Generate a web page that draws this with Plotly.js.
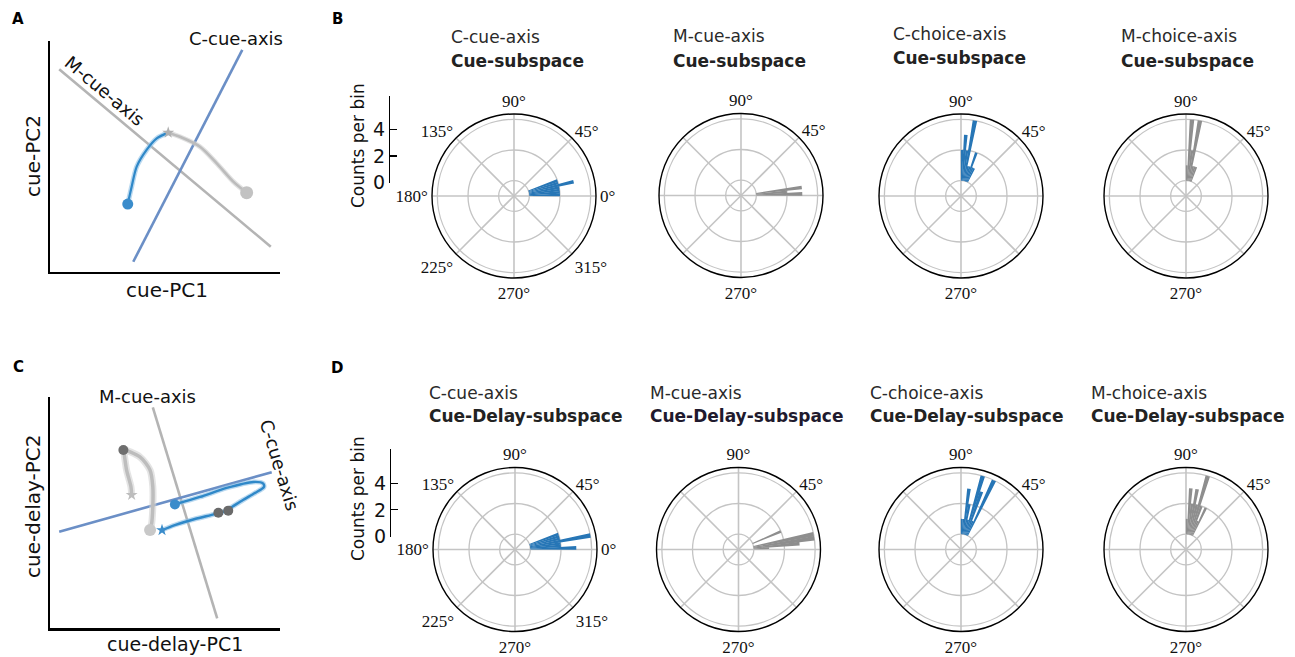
<!DOCTYPE html>
<html>
<head>
<meta charset="utf-8">
<script src="https://cdn.plot.ly/plotly-3.0.1.min.js"></script>
<style>html,body{margin:0;padding:0;background:#fff}#chart{width:1295px;height:657px}</style>
</head>
<body>
<div id="chart"></div>
<script>
// ---------- DATA ----------
// Panel A (cue subspace) projections, arbitrary units
const A_Mcue_axis_x = [0.40, 9.60];
const A_Mcue_axis_y = [8.76, 1.08];
const A_Ccue_axis_x = [3.62, 8.36];
const A_Ccue_axis_y = [0.43, 9.60];
const A_blue_traj_x = [3.38, 3.55, 3.77, 4.20, 4.64, 5.14];
const A_blue_traj_y = [2.93, 3.68, 4.55, 5.27, 5.77, 6.02];
const A_gray_traj_x = [5.14, 5.65, 6.52, 7.25, 7.97, 8.55];
const A_gray_traj_y = [6.02, 5.84, 5.41, 4.69, 3.90, 3.42];

// Panel C (cue-delay subspace)
const C_Mcue_axis_x = [4.47, 7.27];
const C_Mcue_axis_y = [9.54, 0.43];
const C_Ccue_axis_x = [0.40, 9.64];
const C_Ccue_axis_y = [4.17, 6.74];
const C_blue_traj_x = [5.43, 6.52, 7.68, 8.84, 9.26, 9.30, 8.91, 8.39, 7.91, 7.61, 7.17, 6.30, 5.43, 4.87];
const C_blue_traj_y = [5.35, 5.67, 6.06, 6.32, 6.26, 6.10, 5.84, 5.54, 5.24, 5.06, 4.93, 4.72, 4.46, 4.24];
const C_gray_traj_x = [3.55, 3.52, 3.33, 3.22, 3.19, 3.91, 4.35, 4.47, 4.47, 4.42, 4.35];
const C_gray_traj_y = [5.76, 6.11, 6.83, 7.55, 7.70, 7.40, 6.83, 6.11, 5.25, 4.53, 4.24];
const C_dark_dots_x = [7.32, 7.75];
const C_dark_dots_y = [4.99, 5.08];

// Polar histograms: bin centre angle (deg) and counts per bin
const B_Ccue_theta = [1.5, 4.5, 7.5, 10.5, 13.5, 16.5, 19.5];
const B_Ccue_count = [2, 2, 2, 2, 3, 2, 2];
const B_Mcue_theta = [1.5, 4.5, 7.5];
const B_Mcue_count = [3, 2, 3];
const B_Cchoice_theta = [64.5, 67.5, 70.5, 73.5, 76.5, 79.5, 82.5, 85.5, 88.5];
const B_Cchoice_count = [1, 1, 2, 1, 1, 4, 2, 3, 2];
const B_Mchoice_theta = [70.5, 73.5, 76.5, 79.5, 82.5, 85.5, 88.5];
const B_Mchoice_count = [1, 1, 1, 4, 2, 4, 1];
const D_Ccue_theta = [1.5, 4.5, 7.5, 10.5, 13.5, 16.5, 19.5];
const D_Ccue_count = [3, 2, 2, 4, 2, 2, 2];
const D_Mcue_theta = [2.5, 5.5, 8.5, 11.5, 23];
const D_Mcue_count = [1, 3, 4, 4, 2];
const D_Cchoice_theta = [64.5, 67.5, 70.5, 73.5, 76.5, 79.5, 82.5, 85.5, 88.5];
const D_Cchoice_count = [4, 1, 3, 4, 1, 2, 3, 1, 1];
const D_Mchoice_theta = [64.5, 67.5, 70.5, 73.5, 76.5, 79.5, 82.5, 85.5, 88.5];
const D_Mchoice_count = [2, 1, 2, 4, 2, 3, 2, 3, 1];

const angleTicks = [0, 45, 90, 135, 180, 225, 270, 315];
const angleLabelsFull = ['0°', '45°', '90°', '135°', '180°', '225°', '270°', '315°'];
const angleLabelsPart = ['', '45°', '90°', '', '', '', '270°', ''];
const countTicks = [0, 2, 4];

const titles1 = ['C-cue-axis', 'M-cue-axis', 'C-choice-axis', 'M-choice-axis'];
const titlesB2 = 'Cue-subspace';
const titlesD2 = 'Cue-Delay-subspace';

// ---------- LAYOUT HELPERS ----------
const W = 1295, H = 657;
const px = x => x / W;
const py = y => 1 - y / H;
const BLUE = '#2776b6', GRAY = '#8e8e8e';
const SANS = 'DejaVu Sans, Liberation Sans, sans-serif';
const SERIF = 'Liberation Serif, Times New Roman, serif';

const traces = [];
const layout = {
  width: W, height: H,
  margin: {l: 0, r: 0, t: 0, b: 0},
  paper_bgcolor: '#fff', plot_bgcolor: 'rgba(0,0,0,0)',
  showlegend: false, hovermode: false,
  font: {family: SANS, color: '#222'},
  annotations: []
};

function cartAxes(n, x0, x1, yTop, yBot) {
  const xa = {domain: [px(x0), px(x1)], range: [0, 10], showline: true, linecolor: '#000', linewidth: 2.2,
    showgrid: false, zeroline: false, showticklabels: false, ticks: '', anchor: 'y' + (n === 1 ? '' : n), fixedrange: true};
  const ya = {domain: [py(yBot), py(yTop)], range: [0, 10], showline: true, linecolor: '#000', linewidth: 2.2,
    showgrid: false, zeroline: false, showticklabels: false, ticks: '', anchor: 'x' + (n === 1 ? '' : n), fixedrange: true};
  layout['xaxis' + (n === 1 ? '' : n)] = xa;
  layout['yaxis' + (n === 1 ? '' : n)] = ya;
}
cartAxes(1, 50, 280, 40.7, 271.7);
cartAxes(2, 50, 280, 396.7, 628.3);

function line(xs, ys, n, color, width, opacity) {
  traces.push({type: 'scatter', mode: 'lines', x: xs, y: ys, xaxis: 'x' + (n === 1 ? '' : n), yaxis: 'y' + (n === 1 ? '' : n),
    line: {color: color, width: width, shape: 'spline', smoothing: 0.8}, opacity: opacity || 1});
}
function mark(xs, ys, n, color, size, symbol, opacity) {
  traces.push({type: 'scatter', mode: 'markers', x: xs, y: ys, xaxis: 'x' + (n === 1 ? '' : n), yaxis: 'y' + (n === 1 ? '' : n),
    marker: {color: color, size: size, symbol: symbol || 'circle', line: {width: 0}}, opacity: opacity || 1});
}

// Panel A
line(A_Mcue_axis_x, A_Mcue_axis_y, 1, '#b4b4b4', 2.6);
line(A_Ccue_axis_x, A_Ccue_axis_y, 1, '#6b8fc6', 2.6);
line(A_gray_traj_x, A_gray_traj_y, 1, '#cfcfcf', 5, 0.6);
line(A_gray_traj_x, A_gray_traj_y, 1, '#bcbcbc', 2.6);
line(A_blue_traj_x, A_blue_traj_y, 1, '#8cc0e6', 5, 0.6);
line(A_blue_traj_x, A_blue_traj_y, 1, '#2f88c8', 2.2);
mark([A_blue_traj_x[0]], [A_blue_traj_y[0]], 1, '#3a8ccb', 11);
mark([A_gray_traj_x[A_gray_traj_x.length - 1]], [A_gray_traj_y[A_gray_traj_y.length - 1]], 1, '#c2c2c2', 13);
mark([A_gray_traj_x[0]], [A_gray_traj_y[0]], 1, '#b0b0b0', 9, 'star');

// Panel C
line(C_Mcue_axis_x, C_Mcue_axis_y, 2, '#b4b4b4', 2.6);
line(C_Ccue_axis_x, C_Ccue_axis_y, 2, '#6b8fc6', 2.6);
line(C_gray_traj_x, C_gray_traj_y, 2, '#d2d2d2', 7, 0.6);
line(C_gray_traj_x, C_gray_traj_y, 2, '#bdbdbd', 3.5);
line(C_blue_traj_x, C_blue_traj_y, 2, '#8cc0e6', 5, 0.6);
line(C_blue_traj_x, C_blue_traj_y, 2, '#2f88c8', 2.4);
mark([C_gray_traj_x[4]], [C_gray_traj_y[4]], 2, '#6e6e6e', 10);
mark([C_gray_traj_x[C_gray_traj_x.length - 1]], [C_gray_traj_y[C_gray_traj_y.length - 1]], 2, '#c8c8c8', 12);
mark([C_gray_traj_x[0]], [C_gray_traj_y[0]], 2, '#bdbdbd', 9, 'star');
mark(C_dark_dots_x, C_dark_dots_y, 2, '#6a6a6a', 10);
mark([C_blue_traj_x[0]], [C_blue_traj_y[0]], 2, '#3a8ccb', 10);
mark([C_blue_traj_x[C_blue_traj_x.length - 1]], [C_blue_traj_y[C_blue_traj_y.length - 1]], 2, '#3a8ccb', 9, 'star');

// Polar subplots
const R = 82;
const polars = [
  {cx: 514, cy: 196, th: B_Ccue_theta, r: B_Ccue_count, c: BLUE, full: true},
  {cx: 741, cy: 195.5, th: B_Mcue_theta, r: B_Mcue_count, c: GRAY, full: false},
  {cx: 961, cy: 196, th: B_Cchoice_theta, r: B_Cchoice_count, c: BLUE, full: false},
  {cx: 1186, cy: 196, th: B_Mchoice_theta, r: B_Mchoice_count, c: GRAY, full: false},
  {cx: 515, cy: 549.5, th: D_Ccue_theta, r: D_Ccue_count, c: BLUE, full: true},
  {cx: 738.5, cy: 549.5, th: D_Mcue_theta, r: D_Mcue_count, c: GRAY, full: false},
  {cx: 961, cy: 549.5, th: D_Cchoice_theta, r: D_Cchoice_count, c: BLUE, full: false},
  {cx: 1186, cy: 549.5, th: D_Mchoice_theta, r: D_Mchoice_count, c: GRAY, full: false}
];
polars.forEach((p, i) => {
  const name = 'polar' + (i === 0 ? '' : i + 1);
  layout[name] = {
    domain: {x: [px(p.cx - R), px(p.cx + R)], y: [py(p.cy + R), py(p.cy - R)]},
    bgcolor: 'rgba(0,0,0,0)',
    radialaxis: {range: [-1, 4.35], tickvals: countTicks, showticklabels: false, ticks: '', showline: false,
      gridcolor: '#c4c4c4', gridwidth: 1.3},
    angularaxis: {rotation: 0, direction: 'counterclockwise', tickmode: 'array', tickvals: angleTicks,
      ticktext: p.full ? angleLabelsFull : angleLabelsPart, ticks: '', showline: true, linecolor: '#000', linewidth: 1.4,
      gridcolor: '#c4c4c4', gridwidth: 1.6, tickfont: {family: SERIF, size: 17, color: '#111'}}
  };
  traces.push({type: 'barpolar', subplot: name, theta: p.th, r: p.r, width: 3.4,
    marker: {color: p.c, line: {width: 0}}});
});

// "Counts per bin" axes
function countAxis(n, xLine, yZero, yTop) {
  const pxPerCount = 13.4;
  const top = (yZero - yTop) / pxPerCount;
  layout['xaxis' + n] = {domain: [px(xLine), px(xLine + 6)], visible: false, range: [0, 1], anchor: 'y' + n, fixedrange: true};
  layout['yaxis' + n] = {domain: [py(yZero), py(yTop)], range: [0, top], anchor: 'x' + n, showline: true, linecolor: '#000',
    linewidth: 1.2, ticks: 'inside', ticklen: 7, tickwidth: 1.2, tickcolor: '#000', tickvals: countTicks,
    showgrid: false, zeroline: false, tickfont: {family: SANS, size: 19, color: '#111'}, fixedrange: true};
  traces.push({type: 'scatter', mode: 'markers', x: [], y: [], xaxis: 'x' + n, yaxis: 'y' + n});
}
countAxis(3, 390, 182.7, 95.7);
countAxis(4, 391, 536.7, 449.3);

// ---------- ANNOTATIONS ----------
function ann(text, x, y, opts) {
  layout.annotations.push(Object.assign({text: text, x: px(x), y: py(y), xref: 'paper', yref: 'paper', showarrow: false,
    xanchor: 'center', yanchor: 'middle', font: {family: SANS, size: 17, color: '#222'}}, opts || {}));
}
// panel letters
ann('<b>A</b>', 18, 19, {font: {family: SANS, size: 15, color: '#000'}});
ann('<b>B</b>', 337, 19, {font: {family: SANS, size: 15, color: '#000'}});
ann('<b>C</b>', 18, 367, {font: {family: SANS, size: 15, color: '#000'}});
ann('<b>D</b>', 337, 368, {font: {family: SANS, size: 15, color: '#000'}});
// panel A/C texts
ann('cue-PC2', 33, 156, {textangle: -90, font: {family: SANS, size: 20, color: '#111'}});
ann('cue-PC1', 167, 290, {font: {family: SANS, size: 20, color: '#111'}});
ann('C-cue-axis', 236, 38, {font: {family: SANS, size: 18, color: '#111'}});
ann('M-cue-axis', 104, 91, {textangle: 40, font: {family: SANS, size: 18, color: '#111'}});
ann('cue-delay-PC2', 33, 507, {textangle: -90, font: {family: SANS, size: 20, color: '#111'}});
ann('cue-delay-PC1', 175, 644, {font: {family: SANS, size: 19, color: '#111'}});
ann('M-cue-axis', 147, 396, {font: {family: SANS, size: 18, color: '#111'}});
ann('C-cue-axis', 280, 465, {textangle: 73, font: {family: SANS, size: 18, color: '#111'}});
// counts per bin labels
ann('Counts per bin', 358, 146, {textangle: -90, font: {family: SANS, size: 17, color: '#111'}});
ann('Counts per bin', 358, 499, {textangle: -90, font: {family: SANS, size: 17, color: '#111'}});
// polar titles
const tB = [[449, 37, 61], [670.7, 36, 61], [890.5, 34, 58], [1119, 36, 61]];
const tD = [[426.7, 393, 416], [648, 393, 416], [868.3, 393, 416], [1089, 393, 416]];
tB.forEach((t, i) => {
  ann(titles1[i], t[0], t[1], {xanchor: 'left', font: {family: SANS, size: 17, color: '#2a2a2a'}});
  ann('<b>' + titlesB2 + '</b>', t[0], t[2], {xanchor: 'left', font: {family: SANS, size: 17, color: '#222'}});
});
tD.forEach((t, i) => {
  ann(titles1[i], t[0], t[1], {xanchor: 'left', font: {family: SANS, size: 17, color: '#2a2a2a'}});
  ann('<b>' + titlesD2 + '</b>', t[0], t[2], {xanchor: 'left', font: {family: SANS, size: 17, color: i === 1 ? '#1f1a2e' : '#222'}});
});

Plotly.newPlot('chart', traces, layout, {staticPlot: true, displayModeBar: false});
</script>
</body>
</html>
